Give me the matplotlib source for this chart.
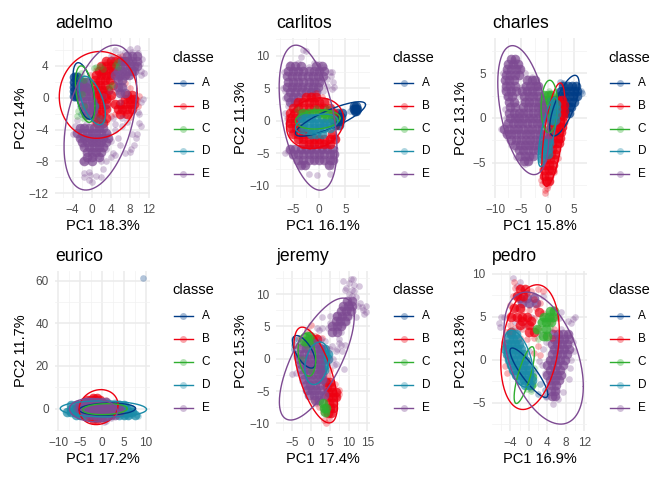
import matplotlib
matplotlib.use('Agg')
import matplotlib.pyplot as plt
import numpy as np
from matplotlib.lines import Line2D

plt.rcParams['font.family'] = ['Liberation Sans', 'DejaVu Sans']

# colours per classe
classes = ['A', 'B', 'C', 'D', 'E']
colors = {'A': '#003C86', 'B': '#EE0011', 'C': '#2FAE2F', 'D': '#1A8BA8', 'E': '#7D4A92'}

names = ['adelmo', 'carlitos', 'charles', 'eurico', 'jeremy', 'pedro']
xlabels = ['PC1 18.3%', 'PC1 16.1%', 'PC1 15.8%', 'PC1 17.2%', 'PC1 17.4%', 'PC1 16.9%']
ylabels = ['PC2 14%', 'PC2 11.3%', 'PC2 13.1%', 'PC2 11.7%', 'PC2 15.3%', 'PC2 13.8%']
xticks = [[-4, 0, 4, 8, 12], [-5, 0, 5], [-10, -5, 0, 5], [-10, -5, 0, 5, 10], [-5, 0, 5, 10, 15], [-4, 0, 4, 8, 12]]
yticks = [[-12, -8, -4, 0, 4], [-10, -5, 0, 5, 10], [-5, 0, 5], [0, 20, 40, 60], [-10, -5, 0, 5, 10], [-5, 0, 5, 10]]
xlims = [(-7.7, 12.3), (-8.2, 9.7), (-10.6, 7.5), (-10.7, 11), (-9.4, 15.7), (-8.0, 12.6)]
ylims = [(-12.6, 7.5), (-11.9, 12.7), (-8.9, 8.9), (-10.5, 64.5), (-11.2, 13.6), (-8.3, 10.3)]
# panel boxes in pixels: left, right, top, bottom
boxes = [(55, 150, 38, 198), (276, 370, 38, 198), (492, 587, 38, 198),
         (55, 150, 271, 431), (276, 370, 271, 431), (492, 587, 271, 431)]
orders = [['A', 'B', 'D', 'E', 'C'], ['A', 'E', 'B', 'C', 'D'], ['A', 'B', 'C', 'E', 'D'],
          ['A', 'B', 'C', 'D', 'E'], ['A', 'B', 'D', 'E', 'C'], ['A', 'E', 'B', 'C', 'D']]

# ellipses: xmin, xmax, ymin, ymax, x at the top of the ellipse
adelmo_ell = {'A': (-3.9, 0.7, -2.7, 4.4, -2.8), 'B': (-6.8, 9.6, -5.1, 5.8, 1.75), 'C': (-3.4, 0.7, -3.1, 4.0, -2.2),
              'D': (-2.6, 2.9, -3.4, 2.7, -1.4), 'E': (-5.8, 9.5, -11.6, 6.6, 4.9)}
carlitos_ell = {'A': (-4.5, 8.85, -2.4, 2.9, 7.7), 'B': (-6.2, 4.7, -4.3, 3.5, 0.05), 'C': (-4.5, 4.0, -1.3, 1.6, 0.4),
                'D': (-4.5, 3.6, -2.1, 1.0, 1.0), 'E': (-7.6, 3.4, -10.7, 11.6, -4.4)}
charles_ell = {'A': (0.4, 6.0, -2.0, 4.75, 5.2), 'B': (-1.1, 3.3, -7.6, 3.9, 2.4), 'C': (-1.25, 1.9, -1.65, 4.2, 0.4),
               'D': (-1.8, 1.9, -5.4, 2.3, 1.4), 'E': (-9.5, 0.2, -6.3, 8.05, -6.7)}
eurico_ell = {'A': (-5.2, 7.7, -3.1, 2.6, 2.0), 'B': (-5.2, 3.7, -7.5, 8.9, -0.2), 'C': (-4.4, 5.8, -2.8, 2.3, 1.3),
              'D': (-9.5, 10.2, -3.9, 3.6, -0.2), 'E': (-7.4, 3.6, -6.2, 4.7, -2.5)}
jeremy_ell = {'A': (-5.0, 1.15, -1.45, 3.6, -3.9), 'B': (-4.6, 7.0, -9.95, 4.9, -2.4), 'C': (-3.5, 1.2, -2.7, 3.9, -1.7),
              'D': (-1.7, 4.7, -4.0, 2.6, 2.3), 'E': (-8.5, 11.5, -9.5, 9.4, 8.5)}
pedro_ell = {'A': (-4.1, 4.1, -4.4, 1.35, -3.6), 'B': (-6.1, 6.6, -5.8, 8.7, 1.8), 'C': (-3.2, 1.2, -5.1, 1.5, 0.7),
             'D': (-5.4, 0.9, -3.2, 3.4, -3.8), 'E': (-5.4, 11.8, -7.5, 7.85, -0.5)}

# points, single points
adelmo_pts = {
    'A': [(-3.8, 2.7), (-3.5, 2.8), (-3.9, 1.9), (-3.8, 1), (-3.9, 0.6), (-3.6, 0.2), (-3.3, 2.5), (-2.8, 2.9), (-3.2, 1.5),
          (-3, 0.8), (-2.7, 0), (-2.5, -1), (-2.2, -2), (-2, 1.8), (-3.6, 1.4), (-3.4, -0.1), (-1.5, -1.5), (-1.2, -2.3)],
    'B': [(1, 3.5), (2, 4), (3, 4.5), (3.5, 3.8), (4.5, 5), (5.5, 5.1), (6.5, 5.2), (2, 2.8), (3.2, 2.4), (4.5, 3), (1, 2), (0.8, 1), (1.6, 0.3),
          (2.5, 1), (3.5, 1.2), (1, -0.5), (2, -1), (3, -1.4), (3.5, -0.2), (1, -2.2), (1.8, -2.9), (3, -3), (4, -2.3), (4.5, -0.8), (5, -2),
          (5.5, 1.5), (6.2, 0.6), (6, -1), (6.5, -2), (7, 1.8), (7.5, 2.8), (5.8, 2.5), (8, 1.2), (7, -2.2), (8, -2.4), (8.5, -1.8), (9.5, -0.3),
          (10, 0.2), (9.8, -1), (4, 0), (5, 0.7), (2.6, -2), (0.5, -3), (2.5, 3.3), (4, 4.2), (0, 0.2), (0.4, -1.5), (1.5, 1.7), (-0.3, 2.8)],
    'C': [(-2.5, 2.5), (-2.2, 3.1), (-1.5, 2.2), (-2, 0.5), (-1.5, -1), (-1, -2.6), (-1.8, -2.5), (1, 3.8), (0.5, 3.7), (1.7, 4), (2.5, 3.6),
          (5, 4.1), (5.3, 4.5), (5.5, 3.8), (4.2, 1.6), (3.7, 1.4), (-2.8, -1.7), (-3, -2.3)],
    'D': [(-2.4, 2.3), (-2, 2.6), (-1.5, 2), (-1, 1.4), (-2, 1), (-0.6, 0), (0.2, -1), (0.8, -2), (1.2, -2.8), (1.8, -2.5), (2.3, -3), (0.6, -0.4), (-1.2, -2), (-0.2, -2.5)],
    'E': [(-3.5, -3.5), (-4, -4.5), (-2.5, -5), (-2, -6), (-1, -8), (-2, -8), (-1.5, -9.5), (-0.5, -9.3), (-1.5, -10), (-0.5, -10.4), (0, -10.6),
          (-0.3, -9.7), (1, -9.8), (2, -10), (2, -8), (3, -8), (2.5, -9), (4, -7.5), (4.5, -7), (5, -7.2), (6, -6), (5.5, -5), (4, -5.5), (3.5, -4.5),
          (5, -4), (7, -7), (8, -6.8), (8.3, -6.5), (9, -6), (9.3, -5), (8.5, -4.5), (9.5, -4.5), (10, -3.2), (10.3, -3.5), (10, -2), (9.7, -1.8),
          (10.3, -0.6), (10.8, -0.2), (-0.5, -4.4), (0.6, -5.5), (10.5, 2.8), (11, 3.1), (10.3, 3.4), (10.2, 4.2), (10.6, 4.8), (9.8, 5.6), (9.5, 6.3),
          (8, 6.1), (8.6, 5.8), (5, 6), (6, 5.5), (7, 5.7), (4, 5.2), (5.5, 2.5), (6.5, 1.5), (7, 2.6), (5.5, 0.8), (6, -0.5), (6.5, -2.5), (4.5, -2.5),
          (3, -1), (3.8, 0.8), (2.5, 0.2), (5, -3.3), (6.5, -3.5), (7.5, -3), (2, -3.5), (-3, -2.8), (-2.2, -3.7), (-1.2, -3.3), (1.6, -7.3), (3, -6.4)],
}
# dense patches, read row by row: (y, [x, x, ...])
adelmo_rows = {
    'A': [(2.6, [-3.8, -3]), (2, [-3.8, -3]), (1.4, [-3.8, -3]), (0.8, [-3.8, -3]), (0.2, [-3.7, -3])],
    'B': [(4.6, [3, 4, 5, 6, 7]), (4, [2, 3, 4, 5]), (3.4, [1.5, 2.5, 3.5, 4.5]), (2.8, [1, 2, 3, 4]), (2.2, [0.8, 1.8, 2.8, 3.8]),
          (1.6, [0.8, 1.8, 2.8, 4.5]), (1, [0.5, 1.5, 2.5, 3.5]), (0.4, [1, 2, 3, 4, 7.5, 8.5]), (-0.2, [1, 2, 3, 7, 8, 9]),
          (-0.8, [1, 2, 3, 5, 6, 7, 8, 9]), (-1.4, [1, 2, 3, 5.5, 6.5, 7.5, 8.5]), (-2, [1, 2, 6, 7.5]), (-2.6, [0.8, 2, 3]), (-3.2, [1.2, 2.5])],
    'D': [(2, [-2, -1.2]), (1.2, [-2, -1]), (-1, [0.5])],
    'E': [(5.2, [7.5, 8.5, 9.5]), (4.6, [6.5, 7.5, 8.5, 9.5]), (4, [6, 7, 8, 9, 9.6]), (3.4, [5.5, 6.5, 7.5, 8.5, 9]), (2.8, [5, 6, 7, 7.8]),
          (2.2, [5.5, 6.5]), (1.4, [5.5, 6.5]), (0.6, [6, 7]),
          (2, [-2, -1]), (1.4, [-2.2, -1.2]), (0.8, [-2.2, -1.2, -0.3]), (0.2, [-2.2, -1.2, -0.3]), (-0.4, [-2, -1, 0]), (-1, [-1.8, -0.8, 0.2]),
          (-1.6, [-1.5, -0.5, 0.4]), (-2.2, [-1.2, -0.2]),
          (-3.8, [-2.5, -1.5, -0.5, 0.5, 1.5, 2.5]), (-4.4, [-3, -2, -1, 0, 1, 2, 3]), (-5, [-2.5, -1.5, -0.5, 0.5, 1.5, 2.5, 3.5]),
          (-5.6, [-2, -1, 0, 1, 2, 3]), (-6.2, [-1.5, -0.5, 0.5, 1.5, 2.5]), (-6.8, [-1, 0, 1, 2]), (-7.4, [-1, 0, 1.5]), (-8, [-1.5, 0])],
}

carlitos_pts = {
    'A': [(2, 0.2), (3, 1), (1, -0.5), (0, -1), (-1, -1.3), (-2, -1.6), (5.8, 1.5), (6.2, 1.9), (1.5, 0.6), (-3, -1.5), (2.5, -0.4)],
    'B': [(-5.5, 0.5), (-5.8, -0.4), (-5, 1.5), (-4.4, 2.5), (-3.5, 3), (-2.5, 3.5), (-1.5, 4), (-0.5, 4.2), (0.5, 3.7), (1.5, 3), (-2, 2.4), (-0.6, 2.8), (0.5, 2.4),
          (2.2, 2), (3, 1.5), (3.5, 0.5), (3.3, -1), (3, -2.5), (2, -3), (1, -3.4), (0, -3.2), (-1, -3.2), (-2, -3.5), (-3, -3), (-4, -3), (-4.8, -2), (-5.2, -1.2),
          (-4, -0.8), (-3.4, 1), (2.5, -2.2), (-1.2, 3.2), (-1.8, -3.9), (1.5, -3.7), (-4.5, 0.5)],
    'C': [(-4.2, 1.8), (-3.7, 1.2), (-2.5, 1), (-1, 1.4), (0.5, 1.2), (1.5, 1.5), (-0.5, 1.9), (3, 0.3), (2.5, -0.5), (-3, 0.2), (1.6, 2)],
    'D': [(-3.5, 0.2), (-2.5, 0), (-1, -0.4), (0.5, -0.1), (0.5, -0.9), (1.5, -0.5), (2.3, 0.2), (-1.5, -1.6), (-3, -1.2), (0.9, -0.4)],
    'E': [(-3, 10.9), (-2.5, 10.7), (-3.5, 9.8), (-5.5, 8.7), (-4, 8.8), (-1, 8.9), (0, 8.7), (1, 8.2), (-2, 8.2), (-6.7, 7.5), (-6.8, 5), (-6.5, 4.5), (-6.5, 3.4), (-6, 2.2),
          (-6.4, 1.2), (-5.5, 3), (2, 7.4), (2.5, 7.5), (2.3, 6.8), (1.6, 6.4), (2.6, 6), (2.8, 5.2), (2.4, 4.8), (1.5, 5.3), (0.6, 5.6), (0.2, 6.4), (-0.4, 5), (-1.4, 6),
          (-3, 5), (-4.6, 5.2), (-3.5, 4), (-1.6, 4.5), (0.8, 4.5), (-5.5, -4.2), (-6, -4.6), (-6.4, -5), (-5.2, -5.5), (-4.4, -6.2), (-3.5, -6.8), (-2.6, -6.7), (-2, -8.2), (-0.4, -8.3),
          (2, -8.2), (2.5, -7), (2.9, -6.1), (2.5, -5), (3, -4.4), (1, -6), (1.7, -6.8), (0, -5.5), (-1, -6), (-2, -5.3), (-3, -4.6), (0.6, -4.5), (-1.6, -4.4), (3.2, -2.9),
          (-3, -2), (0, -2.2), (-1.2, -2.6), (-5.4, -1.8), (-6, -0.4), (-6.2, 0.4)],
}
carlitos_rows = {
    'A': [(2.2, [6.7, 7.1]), (1.8, [6.6, 7, 7.3]), (1.4, [6.8, 7.1]), (1.2, [3.7, 4.3]), (0.6, [3, 3.6, 4.2]), (0, [2.8, 3.4, 4]), (-0.6, [3, 3.8])],
    'B': [(3.6, [-2.5, -1.5, -0.5]), (2.8, [-4, -3, -2, -1, 0, 1]), (2, [-5, -4, -3, -2, -1, 0, 1, 2]), (1.2, [-5.5, -4.5, -3.5, -2.5, 2.7]),
          (0.4, [-5.5, -4.5, -3.5]), (-0.4, [-5.5, -4.5]), (-1.2, [-5.3, -4.3, -3.3]), (-2, [-5, -4, -3, -2, 2.5]),
          (-2.8, [-4, -3, -2, -1, 0, 1, 2, 3]), (-3.6, [-3, -2, -1, 0, 1, 2])],
    'C': [(1.2, [-3, -2, -1, 0, 1, 2]), (0.4, [0.5, 1.5, 2.5])],
    'D': [(0.4, [-3.5, -2.5, -1.5, -0.5]), (-0.4, [-3, -2, -1, 0, 1, 2]), (-1.2, [-3, -2, -1, 0, 1, 2]), (-2, [-1.5, -0.5, 0.5])],
    'E': [(8.4, [-5.5, -4.5, -3.5, -0.5, 0.5]), (7.6, [-6, -5, -4, -3, -2, -1, 0, 1]), (6.8, [-6.2, -5.2, -4.2, -3.2, -2.2, -1.2, -0.2, 0.8]),
          (6, [-6, -5, -4, -3, -2, -1, 0]), (5.2, [-6.2, -5.2, -4.2, -3.2, -2.2, -1.2, -0.2]), (4.4, [-5.5, -4.5, -3.5, -2.5, -1.5, -0.5]),
          (3.6, [-6, -5, -4]), (2.8, [-5.5, -4.5]),
          (-4.4, [-5.5, -4.5, -3.5, -2.5, -1.5, -0.5, 0.5, 1.5, 2.5]), (-5.2, [-5, -4, -3, -2, -1, 0, 1, 2, 2.8]),
          (-6, [-4, -3, -2, -1, 0, 1, 2, 2.6]), (-6.8, [-3.5, -2.7, 1.8])],
}

charles_pts = {
    'A': [(3, 3.9), (2.4, 4), (6.5, 2.8), (6.3, 3), (5.8, 2.9), (5.5, 3.4), (2, 3), (1.8, 2.3), (1.5, 1.7), (3, 1.2), (2.8, 0.2), (2.4, -0.8), (2, -1.2), (5.4, 2.2), (3.3, 0.6)],
    'B': [(-1, -5.7), (-0.8, -6.4), (-0.4, -7), (0, -7.4), (-0.5, -8), (-0.5, -8.3), (-0.2, -7.8), (0.5, -7), (1.2, -6), (1.9, -4.5), (2.4, -2.5), (2.9, -1), (3.2, 0.3), (3.2, 1.2),
          (-1.3, -6.9), (-1, -7.3), (0.3, -6), (-0.8, -3), (1.5, 1.7), (0.7, 1.6), (2.6, 1.9)],
    'C': [(-0.8, 2.7), (-0.8, 1.8), (-1, 1), (-0.7, 0.2), (-0.5, -0.7), (0.5, 2.8), (0, 2.2), (0.5, 0.7), (0.2, 3), (1, 2.5), (-0.1, -1.2), (0.5, -0.2)],
    'D': [(-1.3, -4.6), (-1.3, -3.8), (-0.8, -2.8), (0.6, -1.3), (1, 0.2), (1.4, 1.6), (-1, -2), (1.3, -0.6), (0.4, 2)],
    'E': [(-6.6, 6.5), (-6, 6.2), (-7, 6), (-5.2, 5.4), (-8, 5.2), (-8.5, 5), (-8.2, 3.9), (-8.4, 3.2), (-8, 2.3), (-8.2, 1), (-8, 0), (-8.1, -0.8), (-8.8, -1.2), (-8.2, -1.7), (-7.5, -2.2),
          (-7, -3), (-6.2, -3.3), (-6, -4.3), (-5.2, -4.7), (-4.4, -5.1), (-3.6, -4.8), (-3, -4.2), (-2.8, -3.2), (-2.4, -2.2), (-1.7, -1.3), (-1, -3.8), (0.5, -3.5), (-3.8, 4.5), (-3, 4.6),
          (-2.5, 4), (-2, 3.5), (-1.8, 2.4), (-1.3, 1.4), (-4.4, 5), (-4.9, 3.5), (-5.5, 2.5), (-5.8, 1.6), (-6.2, 0.2), (-5, 0.8), (-4.7, 2), (-1, 0.4), (-1.1, -0.7), (-0.5, -1.8), (0.2, -2.2)],
}
charles_rows = {
    'A': [(3.6, [3, 3.8, 4.6, 5.4]), (3, [2.6, 3.4, 4.2, 5, 5.6]), (2.4, [2.4, 3.2, 4, 4.8, 5.5]), (1.8, [2.6, 3.4, 4.2, 5]), (1.2, [3, 3.8, 4.5]), (0.6, [3.3, 4])],
    'B': [(2, [1.2, 2, 2.8]), (1.4, [1, 1.8, 2.6, 3.2]), (0.8, [0.9, 1.7, 2.5, 3.2]), (0.2, [0.8, 1.6, 2.4, 3]), (-0.4, [0.8, 1.6, 2.4, 3]), (-1, [0.6, 1.4, 2.2, 2.8]),
          (-1.6, [0.5, 1.3, 2.1, 2.5]), (-2.2, [0.3, 1.1, 1.9, 2.4]), (-2.8, [0, 0.8, 1.6, 2.1]), (-3.4, [0, 0.8, 1.6]), (-4, [-0.2, 0.6, 1.4]), (-4.6, [-0.3, 0.5, 1.2]),
          (-5.2, [-0.5, 0.3, 1]), (-5.8, [-0.6, 0.2, 0.8]), (-6.4, [-0.6, 0.2]), (-7, [-0.4, 0.2])],
    'C': [(2.6, [-0.7, 0, 0.7]), (2, [-0.8, 0, 0.7]), (1.4, [-0.8, 0]), (0.8, [-0.8, -0.1]), (0.2, [-0.6, 0])],
    'D': [(-2.8, [-0.5, 0.2]), (-3.4, [-0.8, 0]), (-4, [-0.8, 0]), (-4.6, [-1]), (1.6, [1, 1.6]), (1, [1, 1.5]), (0.4, [1, 1.5]), (-0.2, [0.9, 1.4])],
    'E': [(6.6, [-7, -6.2]), (6, [-7.5, -6.6, -5.7]), (5.4, [-7.8, -6.9, -6, -5.3]), (4.8, [-8, -7.1, -6.2, -5.5]), (4.2, [-8.2, -7.3, -6.4, -3.9, -3, -2.4]),
          (3.6, [-8, -7.1, -6.2, -4.2, -3.3, -2.4, -1.8]), (3, [-7.9, -7, -6.1, -4.8, -3.9, -3, -2.1]), (2.4, [-7.6, -6.7, -4.5, -3.6, -2.7, -1.8]),
          (1.8, [-7.4, -6.5, -4.4, -3.5, -2.6, -1.7]), (1.2, [-7.2, -6.3, -4.6, -3.7, -2.8, -1.9, -1]), (0.6, [-7.3, -6.4, -5.5, -4.6, -3.7, -2.8, -1.9, -1]),
          (0, [-7.2, -6.3, -5.4, -4.5, -3.6, -2.7, -1.8, -0.9]), (-0.6, [-7.5, -6.6, -5.7, -4.8, -3.9, -3, -2.1, -1.2]),
          (-1.2, [-8.3, -7.4, -6.5, -5.6, -4.7, -3.8, -2.9, -2, -1.1]), (-1.8, [-7.8, -6.9, -6, -5.1, -4.2, -3.3, -2.4, -1.5, -0.6]),
          (-2.4, [-6.9, -6, -5.1, -4.2, -3.3, -2.4, -1.5, -0.6, 0.3]), (-3, [-6.2, -5.3, -4.4, -3.5, -2.6, -1.7, -0.8]),
          (-3.6, [-5.5, -4.6, -3.7, -2.8, -1.9]), (-4.2, [-5.3, -4.4, -3.5, -2.7]), (-4.8, [-4.5, -3.7])],
}

eurico_pts = {
    'A': [(9.5, 61)],
    'B': [(-3, 4.5), (-2, 5.2), (-1.5, 5.5), (-0.8, 5), (-4, 3.5), (-2, -4.5), (-3, -4.2), (-1, -5), (0, -5.5), (-3.5, -3.6), (1, 4)],
    'C': [(-1, -2), (2, 1.5), (3, -1)],
    'D': [(-8, -1.2), (-7.5, -1.8), (-7, 0.5), (-7.2, -0.5), (-6.3, -2.5), (-5, -3), (-4, -3.5), (-5, 2.5), (-4, 3.5), (-2.7, 3.6), (-6, 1.5), (4, 2.6), (5, 1.8), (6, 0.5), (7.4, -1.7), (8, -3), (7, -3),
          (6, -3.5), (5, -3.5), (4, -3), (3, 3.2), (1, 3.5), (-1, 3), (8.2, -3.5), (7, -1.4), (5.8, -3)],
    'E': [(-5.5, 2), (-6, 1), (-5.8, 0), (-3.3, 3.8), (-2, 3), (0, 3.5), (1.4, 3), (3.5, 1.9), (4.5, 0.5), (4.3, -1.3), (3, -3), (2, -4.3), (1, -5.7), (0.5, -6.4), (-0.5, -4), (-3.5, -3), (-4.5, -2)],
}
eurico_rows = {
    'B': [(5, [-2, -1]), (4, [-3.5, -2.5, -1.5, -0.5]), (-3.5, [-3.5, -2.5, -1.5]), (-5, [-2, -1])],
    'D': [(1.5, [-7, -6, 4, 5]), (0, [-7, -6, 4.5, 5.5, 6.5]), (-1.5, [-8, -7, -6, -5, 5, 6, 7]), (-3, [-6, -5, -4, 4, 5, 6, 7.5])],
    'E': [(3, [-4, -3, -2, -1, 0, 1]), (1.5, [-5, -4, -3, -2, -1, 0, 1, 2, 3]), (0, [-5, -4, -3, -2, -1, 0, 1, 2, 3, 4]),
          (-1.5, [-4, -3, -2, -1, 0, 1, 2, 3, 4]), (-3, [-3, -2, -1, 0, 1, 2, 3]), (-4, [-1, 0, 1])],
}

jeremy_pts = {
    'A': [(-4.5, 3), (-4.6, 1.5), (-4, 0.5), (-3.2, -0.4), (-2.8, 2.5), (-1.8, 1.5), (-1, 0.2), (-0.4, -1), (-4.5, 2.2), (-3.6, 3.1)],
    'B': [(0, 5.2), (-1, 4.4), (1, 3.5), (1.5, 3.4), (3, 3.2), (4, 1.6), (-3, 3.2), (-3.5, 2), (4, -3.2), (5, -3.7), (5.5, -4.4), (6, -5.2), (7.5, -5.4), (7.5, -4.8), (6.7, -6), (5.6, -7),
          (6, -7.8), (5.3, -8.5), (4.8, -9.3), (4, -10), (3.5, -9.5), (3.2, -8.2), (2, -7.5), (1, -6.8), (0.5, -6.3), (5, -6), (4, -5), (3.4, -4.2), (6.4, -3.9), (5, -1.8), (4.5, -2.6)],
    'C': [(-1.2, 3.5), (-0.8, 3.2), (-2, 2.5), (-1, 2), (0, 2.7), (3.2, -6.8), (3.2, -7.6), (3.9, -8.5), (4, -8.1), (0, -1.8), (-2.4, 0)],
    'D': [(0.2, 1.5), (1.5, 2.2), (2.5, 2), (4.3, 0.7), (4.5, 0.2), (4, -1), (3, -3), (1.5, -3.6), (0.2, -2.6)],
    'E': [(8.5, 12), (10.5, 12.3), (11.2, 12.3), (11.5, 11.5), (10, 11.8), (9.2, 11), (10.8, 10.6), (11.5, 10.5), (12.8, 11.3), (9, 10.7), (10, 10), (11, 9.8), (12, 9.5), (10.5, 9),
          (13, 8.6), (13.5, 8), (12.5, 8.2), (14.5, 8.2), (13.8, 7.6), (14.5, 7.2), (14, 7), (12, 6.5), (9.5, 8.5), (8.5, 7.8), (9.8, 7.5), (10.4, 8.2), (8.2, 6.7), (7.5, 6), (6.5, 6.8), (5, 6.6),
          (3, 6.5), (5, 5.5), (6, 5), (4.5, 4.8), (3, 4.7), (2, 4.5), (1.5, 4.8), (7, 4.5), (8, 4.2), (8.5, 5.2), (9.5, 5.7), (10.2, 6.4), (7.5, 3), (7.3, 2.5), (8, 2.2), (9, 2.1), (7, 1.5), (6.5, 1.2),
          (8.2, 1.2), (5.5, 2), (5, 1.5), (5.8, 0), (6.5, -0.8), (8.7, -1.6), (6, -1), (4.5, -0.5), (-5, -2.3), (-4, -2.2), (-3.6, -0.8), (-3.2, 0.4), (-2.5, -3.4), (-1.5, -4), (-0.5, -5),
          (0.5, -6), (1.5, -6.8), (3.8, -3.5), (2.5, 3), (3.6, 2.7)],
}
jeremy_rows = {
    'B': [(3, [0.2, 1.5]), (-3.6, [4, 5]), (-4.4, [4.2, 5.4]), (-5.2, [4.5, 5.6, 6.6]), (-6, [4.5, 5.6, 6.5]), (-6.8, [4.8, 5.8]), (-7.6, [5, 5.8]), (-8.4, [4.5, 5.2])],
    'D': [(1.5, [2.5, 3.8]), (0.7, [2.5, 3.8, 4.4]), (-0.1, [2.5, 3.6, 4.4]), (-0.9, [2.5, 3.6]), (-1.7, [2.5, 3.5])],
    'E': [(2.4, [-1.5, 0, 1.3]), (1.6, [-2.8, -1.5, -0.2, 1.1, 2.4]), (0.8, [-3.2, -1.9, -0.6, 0.7, 2]), (0, [-3.2, -1.9, -0.6, 0.7, 2]), (-0.8, [-2.8, -1.5, -0.2, 1.1, 2.4]),
          (-1.6, [-2.8, -1.5, -0.2, 1.1, 2.4]), (-2.4, [-2.2, -0.9, 0.4, 1.7, 3]), (-3.2, [-2, -0.7, 0.6, 1.9, 3]), (-4, [-1.5, -0.2, 1.1, 2.4]), (-4.8, [-1.2, 0.1, 1.4, 2.7]),
          (-5.6, [-0.5, 0.8, 2.1, 3.3]), (-6.4, [0.9, 2.2]),
          (9, [9.5, 10.8]), (8.2, [8.5, 9.8, 11]), (7.4, [8, 9.3, 10.5]), (6.6, [7, 8.3, 9.6]), (5.8, [6.5, 7.8, 9]), (5, [5.5, 6.8, 8]), (4.2, [5.5, 7])],
    'C': [(3.6, [-1.2, -0.2]), (2.8, [-2, -0.8]), (-6.8, [3.2]), (-7.6, [3.4, 4]), (-8.2, [3.8])],
}

pedro_pts = {
    'A': [(-3, 1), (-2, 0.8), (-0.5, 0), (1, -1.5), (2.5, -2.8), (3.8, -4.2), (2, -4), (0.5, -3.4), (3.4, -3.5)],
    'B': [(-3.2, 9), (-3, 8.3), (-2, 8.4), (-1.5, 8), (-0.5, 7.8), (0.5, 8), (2, 8.2), (3, 8), (-3.5, 7.4), (-2.5, 7), (-1, 7), (1, 7), (-4, 6.4), (-3, 6), (-1.5, 5.8), (0, 5.8), (1.5, 6), (2.5, 6.6), (-4.2, 5.2),
          (-3.2, 5), (-2, 4.8), (-0.5, 4.8), (-4, 4), (-3, 3.7), (-1.5, 3.5), (0, 4), (1, 4.8), (-5, 3.2), (-4.6, 2), (-5.5, 2), (-2, 2.5), (-0.5, 2.4), (1, 2.5), (2, 3.7), (3, 5.4), (4.5, 4.4),
          (5.5, 3.5), (5, 2.5), (2, 1.6), (1, 0.8), (2.5, 0.5), (-5, 0.4), (-5.2, -0.8), (-4.8, -1.6), (4.8, 5), (5.8, 4.8), (3.7, 2.8)],
    'C': [(1.5, 3.3), (1.7, 3.6), (2, 2.4), (2.8, 5), (2.5, 4.4), (3.2, 3.5), (3.5, 2.5), (4, 3.1), (4.5, 3.8), (5, 4.7), (4.2, 5.3), (5, 5.8), (5.5, 5.9), (5.8, 5.2), (3.5, 4.7), (1, -1), (1, -2.8), (0.5, -3.6), (-0.5, -3.4)],
    'D': [(-5.5, 1.5), (-4.8, 3), (-4.3, 3), (-3.6, 3.4), (-2.9, 3), (-2.8, 2), (-1.8, 1.6), (-1, 0.5), (-0.3, -0.5), (0.6, -1.6), (0.5, -3), (-3, -1.5), (-3.4, -0.5), (-4.4, 0), (-2, -2.5)],
    'E': [(-3.5, 9.5), (-2, 9), (-2.6, 8.6), (-6.5, 4.2), (-6, 4.9), (-5.5, 5), (-6.2, 3.8), (8.5, 4.5), (9.2, 4.3), (10, 4.9), (9.5, 4.7), (7, 5.5), (6.5, 4.8), (3, 7.4), (1.2, 7.5), (-0.5, 7.7), (-1.5, 7.2),
          (-2.8, 7.5), (1.5, 6.5), (-1.5, 6.6), (0, 6.3), (-2.5, 6), (7, 3.5), (8.5, 3), (9.5, 2), (9.7, 1), (9.2, 0), (9, -1), (8.6, -2.2), (6.2, -3.5), (7.5, -3.8), (6.4, -4.6), (5.3, -5.2), (5.4, -4.4), (5.6, -3.2),
          (3.8, -4.4), (4.4, -3), (3.6, -1.5), (2.8, -0.6), (2.3, -0.2), (4.4, 0), (3, 1.2), (5, 1), (5.8, 2), (5, 3.2), (6, 0), (3.8, 2), (2.5, 3), (0.5, 5), (-1, 4), (-3, 4.4), (-2, 2), (0, 1), (-2.4, 3.5)],
}
pedro_rows = {
    'B': [(8.2, [-2, -0.8]), (7.4, [-2.5, -1.2]), (6, [-3.2, -2]), (5, [-3.8, -2.6, -1.5, -0.5]), (4.5, [-1.5, 0.5]), (4, [-2, 0]), (3.2, [-3.8, 0, 1]), (5.5, [2.2])],
    'C': [(5.6, [4.6, 5.4]), (5, [3.2, 4.4, 5.3]), (4.4, [2.9, 3.8, 4.8]), (3.6, [1.8, 3.8]), (2.8, [3, 4]), (-2, [0.6]), (-3, [0.5])],
    'D': [(3, [-3.8, -2.9]), (2.4, [-4.4, -3.5, -2.6]), (1.8, [-4.8, -3.9, -3, -2.2]), (1.2, [-5.2, -4.3, -3.4, -2.5, -1.7]), (0.6, [-4.8, -3.9, -3, -2.1, -1.2]),
          (0, [-4.4, -3.5, -2.6, -1.7, -0.8]), (-0.6, [-3.9, -3, -2.1, -1.2, -0.4]), (-1.2, [-3.4, -2.5, -1.6, -0.7, 0.1]), (-1.8, [-2.7, -1.8, -0.9, 0]),
          (-2.4, [-1.9, -1, -0.1, 0.6]), (-3, [-0.9, 0])],
    'E': [(7.2, [-2, -0.5, 1]), (6.6, [-1.5, 0, 1.5]),
          (3, [5.2, 6.3, 7.4, 8.4]), (2.4, [5.5, 6.6, 7.7, 8.8]), (1.8, [5, 6.1, 7.2, 8.3]), (1.2, [5.5, 6.6, 7.7, 8.6]), (0.6, [5, 6.1, 7.2, 8.3]), (0, [4.5, 5.6, 6.7, 7.8]),
          (-0.6, [4, 5.1, 6.2, 7.3]), (-1.2, [4.5, 5.6, 6.7]), (-1.8, [4, 5.1, 6.2, 7]), (-2.4, [4.5, 5.6, 6.5]), (-3, [4.8, 5.8]), (-3.6, [4.8, 5.7]), (-4.2, [5, 5.6])],
}

pts_by_panel = [adelmo_pts, carlitos_pts, charles_pts, eurico_pts, jeremy_pts, pedro_pts]
rows_by_panel = [adelmo_rows, carlitos_rows, charles_rows, eurico_rows, jeremy_rows, pedro_rows]
ell_by_panel = [adelmo_ell, carlitos_ell, charles_ell, eurico_ell, jeremy_ell, pedro_ell]

W, H = 672, 480
fig = plt.figure(figsize=(W / 100, H / 100), dpi=100, facecolor='white')

t = np.linspace(0, 2 * np.pi, 200)


def draw_ellipse(ax, ell, col):
    xmin, xmax, ymin, ymax, xtop = ell
    cx, cy = (xmin + xmax) / 2, (ymin + ymax) / 2
    sx, sy = (xmax - xmin) / 2, (ymax - ymin) / 2
    r = np.clip((xtop - cx) / sx, -1, 1)
    # same shape stat_ellipse gets from the covariance
    x = cx + sx * np.cos(t)
    y = cy + sy * np.cos(t - np.arccos(r))
    ax.plot(x, y, color=col, lw=1.0, zorder=5, solid_capstyle='round')


for i, name in enumerate(names):
    l, r, top, b = boxes[i]
    ax = fig.add_axes([l / W, 1 - b / H, (r - l) / W, (b - top) / H])
    ax.set_xlim(xlims[i])
    ax.set_ylim(ylims[i])
    for s in ax.spines.values():
        s.set_visible(False)

    xt, yt = xticks[i], yticks[i]
    ax.set_xticks(xt)
    ax.set_yticks(yt)
    dx, dy = xt[1] - xt[0], yt[1] - yt[0]
    ax.set_xticks([v for v in np.arange(xt[0] - dx / 2, xt[-1] + dx, dx) if xlims[i][0] < v < xlims[i][1]], minor=True)
    ax.set_yticks([v for v in np.arange(yt[0] - dy / 2, yt[-1] + dy, dy) if ylims[i][0] < v < ylims[i][1]], minor=True)
    ax.grid(True, which='major', color='#EBEBEB', lw=1.1)
    ax.grid(True, which='minor', color='#F2F2F2', lw=0.55)
    ax.set_axisbelow(True)
    ax.tick_params(which='both', length=0)
    ax.tick_params(axis='x', labelsize=8.45, labelcolor='#4D4D4D', pad=4)
    ax.tick_params(axis='y', labelsize=8.45, labelcolor='#4D4D4D', pad=4.5)

    ax.set_title(name, loc='left', fontsize=12.7, pad=7.5, color='black')
    ax.set_xlabel(xlabels[i], fontsize=10.56)
    ax.set_ylabel(ylabels[i], fontsize=10.56)
    ax.xaxis.set_label_coords(0.5, -21 / (b - top))
    lab_x = [28, 248, 468][i % 3]
    ax.yaxis.set_label_coords((lab_x - l) / (r - l), 0.5)

    # points first, in the order they pile up in the picture
    for c in orders[i]:
        if c in pts_by_panel[i]:
            p = np.array(pts_by_panel[i][c])
            ax.scatter(p[:, 0], p[:, 1], s=23, color=colors[c], alpha=0.3, linewidths=0, zorder=2)
        if c in rows_by_panel[i]:
            px = [x for y, xs in rows_by_panel[i][c] for x in xs]
            py = [y for y, xs in rows_by_panel[i][c] for x in xs]
            ax.scatter(px, py, s=48, color=colors[c], alpha=0.72, linewidths=0, zorder=2)
    for c in classes:
        draw_ellipse(ax, ell_by_panel[i][c], colors[c])

    # legend by hand so the keys sit where they do in the reference
    title_x = [172, 392, 608][i % 3]
    title_y = 58 if i < 3 else 290
    row_y = 82.7 if i < 3 else 316
    fig.text(title_x / W, 1 - title_y / H, 'classe', fontsize=10.56, va='center', ha='left')
    for k, c in enumerate(classes):
        yy = 1 - (row_y + 22.9 * k) / H
        x0, x1 = (title_x + 2) / W, (title_x + 21) / W
        fig.add_artist(Line2D([x0, x1], [yy, yy], color=colors[c], lw=1.0, transform=fig.transFigure))
        fig.add_artist(Line2D([(x0 + x1) / 2], [yy], color=colors[c], marker='o', ms=5, mew=0, alpha=0.35,
                              transform=fig.transFigure))
        fig.text((title_x + 29.7) / W, yy, c, fontsize=8.45, va='center', ha='left')

fig.savefig('out.png', dpi=100)
